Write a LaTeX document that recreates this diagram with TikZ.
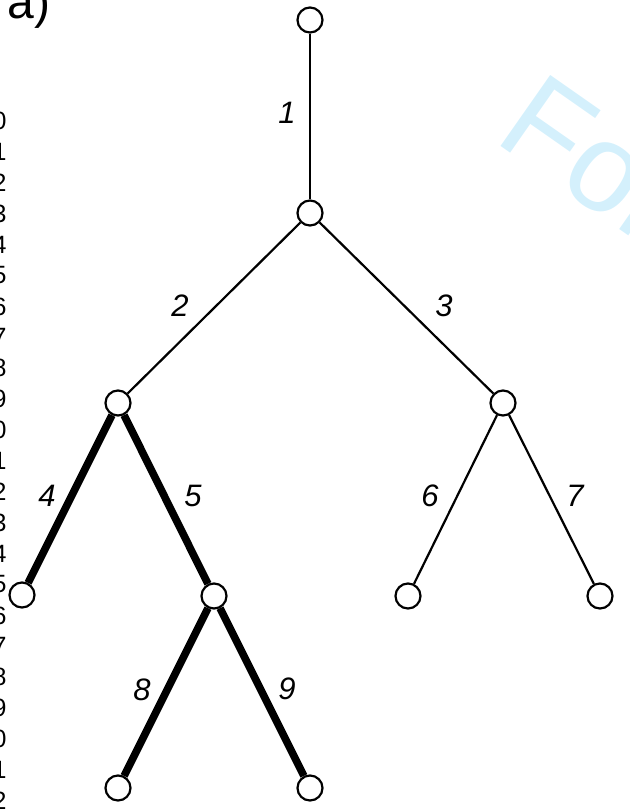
\documentclass[tikz,border=0pt]{standalone}
\usepackage{fontspec}
\setmainfont{Liberation Sans}
\definecolor{wmark}{RGB}{212,240,252}
\begin{document}
\begin{tikzpicture}[x=0.5pt,y=-0.5pt,
	  vert/.style={circle,draw,line width=1.1pt,fill=white,minimum size=12.5pt,inner sep=0pt},
	  lab/.style={font=\fontsize{15.5}{18}\selectfont\itshape},
	  lnum/.style={anchor=east,inner sep=0pt,font=\fontsize{12.5}{14}\selectfont},
	  branch/.style={line width=1.1pt},
	  heavy/.style={line width=3.8pt}]
	  \useasboundingbox (0,0) rectangle (630,811);
	  \clip (0,0) rectangle (630,811);
	  \node[anchor=base west,rotate=-35,inner sep=0pt,text=wmark,font=\fontsize{63}{70}\selectfont] (wm) at (492,140) {For Peer Review};
	  \foreach \i in {0,...,22} {
	    \pgfmathtruncatemacro\d{mod(\i,10)}
	    \node[lnum] (ln\i) at (7,{121+30.9*\i}) {\d};
	  }
	  \node[anchor=base west,inner sep=0pt,font=\fontsize{24}{28}\selectfont] (tag) at (7,18) {a)};
	  \node[vert] (v1) at (310,20) {};
	  \node[vert] (v2) at (310,213) {};
	  \node[vert] (v3) at (118,403) {};
	  \node[vert] (v4) at (503,403) {};
	  \node[vert] (v5) at (22,595) {};
	  \node[vert] (v6) at (214,596) {};
	  \node[vert] (v7) at (408,596) {};
	  \node[vert] (v8) at (600,596) {};
	  \node[vert] (v9) at (118,788) {};
	  \node[vert] (v10) at (310,788) {};
	  \draw[branch] (v1) -- (v2);
	  \draw[branch] (v2) -- (v3);
	  \draw[branch] (v2) -- (v4);
	  \draw[heavy] (v3) -- (v5);
	  \draw[heavy] (v3) -- (v6);
	  \draw[branch] (v4) -- (v7);
	  \draw[branch] (v4) -- (v8);
	  \draw[heavy] (v6) -- (v9);
	  \draw[heavy] (v6) -- (v10);
	  \node[lab] (e1) at (287,113) {1};
	  \node[lab] (e2) at (180,306) {2};
	  \node[lab] (e3) at (444,306) {3};
	  \node[lab] (e4) at (47,496) {4};
	  \node[lab] (e5) at (193,496) {5};
	  \node[lab] (e6) at (430,496) {6};
	  \node[lab] (e7) at (575,496) {7};
	  \node[lab] (e8) at (142,690) {8};
	  \node[lab] (e9) at (287,689) {9};
	\end{tikzpicture}
\end{document}
